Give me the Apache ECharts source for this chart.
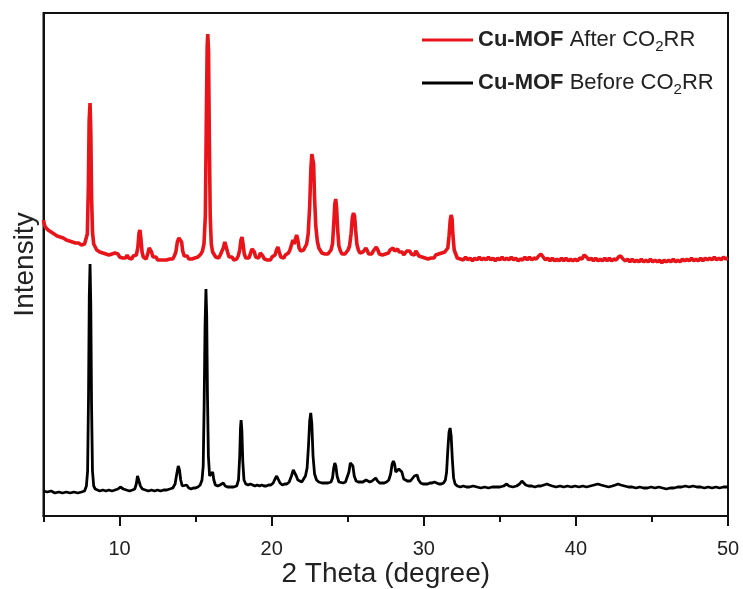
<html>
<head>
    <meta charset="utf-8" />
    <script src="https://cdn.jsdelivr.net/npm/echarts@6/dist/echarts.min.js"></script>
</head>
<body style="margin:0;background:#fff;">
    <div id="main" style="width:743px;height:589px;"></div>
    <script>
        // 2-theta / intensity pairs (intensity in arbitrary units)
        var afterCO2RR = [
            [5.00,296],[5.05,292],[5.12,289],[5.2,290],[5.3,286],[5.4,287],[5.5,284],[5.6,285],[5.7,282],[5.8,283],
            [5.9,280],[6.0,282],[6.1,279],[6.2,280],[6.3,278],[6.4,279],[6.5,276],[6.6,278],[6.7,275],[6.8,277],
            [6.9,274],[7.0,276],[7.1,273],[7.2,275],[7.3,273],[7.4,274],[7.5,271],[7.6,273],[7.7,272],[7.8,274],
            [7.88,282],[7.95,330],[8.0,395],[8.06,413],[8.11,385],[8.16,320],[8.22,284],[8.3,272],[8.4,270],[8.5,266],
            [8.6,268],[8.7,264],[8.8,266],[8.9,263],[9.0,265],[9.1,262],[9.2,264],[9.3,261],[9.4,263],[9.5,262],
            [9.6,260],[9.7,263],[9.8,261],[9.9,262],[10.0,259],[10.1,261],[10.2,258],[10.3,260],[10.4,258],[10.5,261],
            [10.6,258],[10.7,259],[10.8,257],[10.9,260],[11.0,258],[11.1,261],[11.2,268],[11.28,283],[11.34,286],[11.4,278],
            [11.48,264],[11.56,259],[11.65,261],[11.75,257],[11.85,262],[11.95,268],[12.02,270],[12.1,264],[12.2,259],[12.3,257],
            [12.4,259],[12.5,256],[12.6,258],[12.7,256],[12.8,258],[12.9,256],[13.0,258],[13.1,256],[13.2,258],[13.3,257],
            [13.4,259],[13.5,257],[13.6,260],[13.7,264],[13.8,274],[13.9,278],[14.0,279],[14.08,274],[14.15,265],[14.25,260],
            [14.35,258],[14.45,260],[14.55,257],[14.65,259],[14.75,257],[14.85,259],[14.95,258],[15.05,260],[15.15,259],[15.25,261],
            [15.35,262],[15.45,265],[15.55,272],[15.64,300],[15.70,390],[15.76,470],[15.80,482],[15.85,465],[15.9,380],[15.96,300],
            [16.03,272],[16.12,264],[16.22,262],[16.32,259],[16.42,261],[16.52,258],[16.62,261],[16.72,263],[16.82,268],[16.92,274],
            [17.0,272],[17.1,264],[17.2,259],[17.3,257],[17.4,259],[17.5,256],[17.6,258],[17.7,257],[17.8,260],[17.9,266],
            [17.98,276],[18.05,279],[18.12,272],[18.2,262],[18.3,258],[18.4,260],[18.5,258],[18.6,262],[18.7,267],[18.78,269],
            [18.86,264],[18.95,259],[19.05,261],[19.15,258],[19.25,263],[19.33,265],[19.42,260],[19.52,257],[19.62,259],[19.72,256],
            [19.82,258],[19.92,256],[20.02,259],[20.12,257],[20.22,261],[20.32,266],[20.41,269],[20.5,264],[20.6,259],[20.7,261],
            [20.8,258],[20.9,261],[21.0,260],[21.1,263],[21.2,266],[21.3,271],[21.4,276],[21.48,272],[21.56,277],[21.64,281],
            [21.72,276],[21.8,268],[21.9,265],[22.0,264],[22.1,266],[22.2,268],[22.3,272],[22.4,282],[22.5,310],[22.58,348],
            [22.64,362],[22.70,363],[22.76,352],[22.82,318],[22.9,290],[23.0,275],[23.1,268],[23.2,266],[23.3,263],[23.4,265],
            [23.5,262],[23.6,264],[23.7,262],[23.8,264],[23.9,266],[24.0,272],[24.08,292],[24.15,312],[24.21,317],[24.27,308],
            [24.34,286],[24.42,270],[24.52,265],[24.62,262],[24.72,264],[24.82,262],[24.92,264],[25.02,266],[25.12,270],[25.22,282],
            [25.3,298],[25.38,303],[25.45,300],[25.52,286],[25.6,272],[25.7,266],[25.8,263],[25.9,265],[26.0,264],[26.1,266],
            [26.2,268],[26.28,266],[26.38,262],[26.48,264],[26.58,262],[26.68,265],[26.78,267],[26.88,269],[26.98,266],[27.08,262],
            [27.18,264],[27.28,261],[27.38,263],[27.48,262],[27.58,264],[27.68,263],[27.78,266],[27.88,268],[27.98,268],[28.08,265],
            [28.18,263],[28.28,267],[28.38,264],[28.48,262],[28.58,264],[28.68,261],[28.78,263],[28.88,265],[28.98,267],[29.08,265],
            [29.18,262],[29.28,264],[29.38,261],[29.48,265],[29.58,263],[29.68,260],[29.78,262],[29.88,259],[29.98,261],[30.08,258],
            [30.18,260],[30.28,257],[30.38,259],[30.48,258],[30.58,260],[30.68,258],[30.78,261],[30.88,259],[30.98,262],[31.08,260],
            [31.18,263],[31.28,261],[31.38,264],[31.48,262],[31.58,268],[31.66,280],[31.74,296],[31.8,301],[31.86,297],[31.92,280],
            [32.0,266],[32.1,262],[32.2,258],[32.3,260],[32.4,257],[32.5,259],[32.6,256],[32.75,259],[32.9,256],[33.05,258],
            [33.2,255],[33.35,258],[33.5,256],[33.65,259],[33.8,256],[33.95,258],[34.1,256],[34.25,259],[34.4,256],[34.55,258],
            [34.7,255],[34.85,258],[35.0,256],[35.15,259],[35.3,256],[35.45,258],[35.6,256],[35.75,259],[35.9,256],[36.05,258],
            [36.2,255],[36.35,257],[36.5,256],[36.65,259],[36.8,256],[36.95,259],[37.1,256],[37.25,258],[37.4,257],[37.55,260],
            [37.7,262],[37.85,259],[38.0,256],[38.15,258],[38.3,255],[38.45,258],[38.6,255],[38.75,257],[38.9,255],[39.05,258],
            [39.2,255],[39.35,258],[39.5,255],[39.65,257],[39.8,255],[39.95,257],[40.1,255],[40.25,258],[40.4,257],[40.55,261],
            [40.7,259],[40.85,256],[41.0,258],[41.15,255],[41.3,258],[41.45,255],[41.6,257],[41.75,255],[41.9,258],[42.05,255],
            [42.2,258],[42.35,255],[42.5,257],[42.65,256],[42.8,259],[42.95,260],[43.1,257],[43.25,255],[43.4,257],[43.55,254],
            [43.7,257],[43.85,254],[44.0,256],[44.15,254],[44.3,257],[44.45,254],[44.6,256],[44.75,254],[44.9,257],[45.05,254],
            [45.2,256],[45.35,254],[45.5,256],[45.65,253],[45.8,256],[45.95,254],[46.1,256],[46.25,254],[46.4,257],[46.55,254],
            [46.7,256],[46.85,254],[47.0,257],[47.15,255],[47.3,257],[47.45,255],[47.6,258],[47.75,255],[47.9,257],[48.05,255],
            [48.2,258],[48.35,255],[48.5,258],[48.65,256],[48.8,258],[48.95,256],[49.1,259],[49.25,256],[49.4,258],[49.55,256],
            [49.7,259],[49.85,257],[50.0,258]
        ];

        var beforeCO2RR = [
            [5.0,25],[5.25,24],[5.5,25],[5.75,23],[6.0,24],[6.25,23],[6.5,24],[6.75,23],[7.0,24],[7.25,23],
            [7.5,24],[7.7,25],[7.82,30],[7.9,45],[7.96,120],[8.01,220],[8.06,252],[8.11,210],[8.16,110],[8.22,45],
            [8.3,30],[8.4,27],[8.55,26],[8.7,25],[8.9,26],[9.1,25],[9.3,26],[9.5,25],[9.7,26],[9.9,27],
            [10.05,29],[10.14,30],[10.25,27],[10.45,26],[10.65,25],[10.85,26],[11.0,27],[11.1,32],[11.18,40],[11.23,42],
            [11.29,38],[11.37,30],[11.5,27],[11.7,26],[11.9,25],[12.1,26],[12.3,25],[12.5,26],[12.7,25],[12.9,26],
            [13.1,26],[13.3,27],[13.5,28],[13.65,32],[13.76,42],[13.86,50],[13.94,46],[14.02,36],[14.12,30],[14.25,29],
            [14.41,31],[14.55,28],[14.7,27],[14.85,28],[15.0,28],[15.15,29],[15.3,31],[15.42,36],[15.5,50],[15.56,110],
            [15.62,190],[15.68,227],[15.73,200],[15.78,120],[15.84,60],[15.92,40],[16.02,42],[16.12,44],[16.2,36],[16.3,31],
            [16.45,30],[16.6,31],[16.72,32],[16.82,33],[16.95,30],[17.1,29],[17.3,29],[17.5,29],[17.7,30],[17.82,36],
            [17.9,60],[17.95,88],[17.99,96],[18.04,86],[18.1,55],[18.18,36],[18.3,32],[18.45,31],[18.6,32],[18.75,31],
            [18.9,30],[19.05,31],[19.2,30],[19.35,31],[19.5,30],[19.65,30],[19.8,31],[19.95,31],[20.1,33],[20.22,37],
            [20.33,40],[20.42,38],[20.55,33],[20.7,31],[20.85,32],[21.0,32],[21.15,34],[21.3,40],[21.42,46],[21.52,44],
            [21.62,40],[21.72,36],[21.85,34],[21.98,34],[22.1,36],[22.22,40],[22.33,48],[22.42,70],[22.5,95],[22.57,103],
            [22.64,92],[22.72,60],[22.82,42],[22.95,36],[23.1,34],[23.3,33],[23.5,33],[23.7,33],[23.9,34],[24.0,38],
            [24.08,48],[24.15,53],[24.22,50],[24.3,40],[24.42,34],[24.55,33],[24.7,33],[24.85,34],[24.98,36],[25.08,44],
            [25.17,53],[25.26,55],[25.34,50],[25.43,40],[25.55,35],[25.7,34],[25.85,34],[26.0,34],[26.12,36],[26.2,36],
            [26.3,34],[26.45,34],[26.6,35],[26.72,37],[26.84,38],[26.96,35],[27.1,33],[27.25,33],[27.4,33],[27.55,34],
            [27.7,36],[27.82,42],[27.92,52],[28.0,55],[28.08,52],[28.16,44],[28.26,42],[28.36,47],[28.46,49],[28.56,44],
            [28.68,37],[28.8,35],[28.92,35],[29.02,36],[29.12,35],[29.25,36],[29.38,40],[29.48,42],[29.56,41],[29.66,36],
            [29.8,33],[29.95,32],[30.1,32],[30.25,32],[30.4,33],[30.55,33],[30.7,34],[30.85,33],[31.0,32],[31.15,32],
            [31.3,33],[31.42,36],[31.5,44],[31.58,66],[31.66,84],[31.73,88],[31.8,80],[31.88,56],[31.96,38],[32.06,32],
            [32.2,30],[32.4,29],[32.6,30],[32.8,29],[33.0,29],[33.25,30],[33.5,29],[33.75,28],[34.0,29],[34.25,28],
            [34.5,29],[34.75,29],[35.0,29],[35.25,30],[35.45,32],[35.6,30],[35.85,29],[36.1,30],[36.3,32],[36.45,35],
            [36.55,34],[36.7,31],[36.9,30],[37.1,30],[37.3,29],[37.5,30],[37.7,30],[37.9,31],[38.1,32],[38.25,31],
            [38.45,30],[38.7,29],[38.95,30],[39.2,29],[39.45,30],[39.7,29],[39.95,30],[40.2,29],[40.45,30],[40.7,29],
            [40.95,30],[41.2,31],[41.45,32],[41.65,31],[41.9,30],[42.15,29],[42.4,30],[42.6,31],[42.77,32],[42.95,31],
            [43.2,30],[43.45,29],[43.7,29],[43.95,28],[44.2,29],[44.45,28],[44.7,28],[44.95,29],[45.2,28],[45.45,29],
            [45.7,28],[45.95,27],[46.2,28],[46.45,28],[46.7,29],[46.95,29],[47.2,30],[47.45,29],[47.7,30],[47.95,29],
            [48.2,29],[48.45,28],[48.7,29],[48.95,28],[49.2,29],[49.45,28],[49.7,29],[50.0,29]
        ];

        var majorTicks = [10, 20, 30, 40, 50];
        var minorTicks = [5, 15, 25, 35, 45];
        var seriesNames = ['Cu-MOF After CO2RR', 'Cu-MOF Before CO2RR'];

        var font = 'Liberation Sans, Arial, sans-serif';
        var legendText = {
            fontFamily: font,
            fontSize: 22,
            color: '#222',
            rich: {
                b: { fontFamily: font, fontSize: 22, fontWeight: 'bold', color: '#222' },
                n: { fontFamily: font, fontSize: 22, color: '#222' },
                s: { fontFamily: font, fontSize: 15, color: '#222', padding: [14, 0, 0, 0] }
            }
        };
        function legendFmt(name) {
            var rest = name.replace('Cu-MOF ', '').replace('CO2RR', '');
            return '{b|Cu-MOF} {n|' + rest + 'CO}{s|2}{n|RR}';
        }

        var myChart = echarts.init(document.getElementById('main'));
        var option = {
            animation: false,
            backgroundColor: '#fff',
            grid: {
                left: 43.5, right: 15, top: 13, bottom: 73,
                outerBoundsMode: 'none', containLabel: false,
                show: true, borderColor: '#111', borderWidth: 2
            },
            legend: [
                {
                    data: [seriesNames[0]], left: 422, top: 29, padding: 0,
                    icon: 'rect', itemWidth: 51, itemHeight: 3, itemGap: 10,
                    formatter: legendFmt, textStyle: legendText
                },
                {
                    data: [seriesNames[1]], left: 422, top: 72, padding: 0,
                    icon: 'rect', itemWidth: 51, itemHeight: 3, itemGap: 10,
                    formatter: legendFmt, textStyle: legendText
                }
            ],
            xAxis: [
                {
                    type: 'value', min: 5, max: 50, position: 'bottom',
                    name: '2 Theta (degree)', nameLocation: 'middle', nameGap: 44,
                    nameMoveOverlap: false,
                    nameTextStyle: { fontFamily: font, fontSize: 28, color: '#222' },
                    axisLine: { show: true, lineStyle: { color: '#111', width: 2 } },
                    axisTick: { show: true, inside: false, length: 10, customValues: majorTicks, lineStyle: { color: '#111', width: 2 } },
                    axisLabel: { show: true, margin: 23, customValues: majorTicks, fontFamily: font, fontSize: 20, color: '#222' },
                    splitLine: { show: false }
                },
                {
                    type: 'value', min: 5, max: 50, position: 'bottom', offset: 0,
                    axisLine: { show: false },
                    axisTick: { show: true, inside: false, length: 6, customValues: minorTicks, lineStyle: { color: '#111', width: 2 } },
                    axisLabel: { show: false },
                    splitLine: { show: false }
                }
            ],
            yAxis: {
                type: 'value', min: 0, max: 503,
                name: 'Intensity', nameLocation: 'middle', nameGap: 4,
                nameMoveOverlap: false,
                nameTextStyle: { fontFamily: font, fontSize: 28, color: '#222' },
                axisLine: { show: true, lineStyle: { color: '#111', width: 2 } },
                axisTick: { show: false },
                axisLabel: { show: false },
                splitLine: { show: false }
            },
            series: [
                {
                    name: seriesNames[0], type: 'line', data: afterCO2RR,
                    showSymbol: false, symbol: 'none',
                    lineStyle: { color: '#e8141a', width: 3.6 },
                    itemStyle: { color: '#e8141a' }
                },
                {
                    name: seriesNames[1], type: 'line', data: beforeCO2RR,
                    showSymbol: false, symbol: 'none',
                    lineStyle: { color: '#000', width: 2.8 },
                    itemStyle: { color: '#000' }
                }
            ]
        };
        myChart.setOption(option);
    </script>
</body>
</html>
